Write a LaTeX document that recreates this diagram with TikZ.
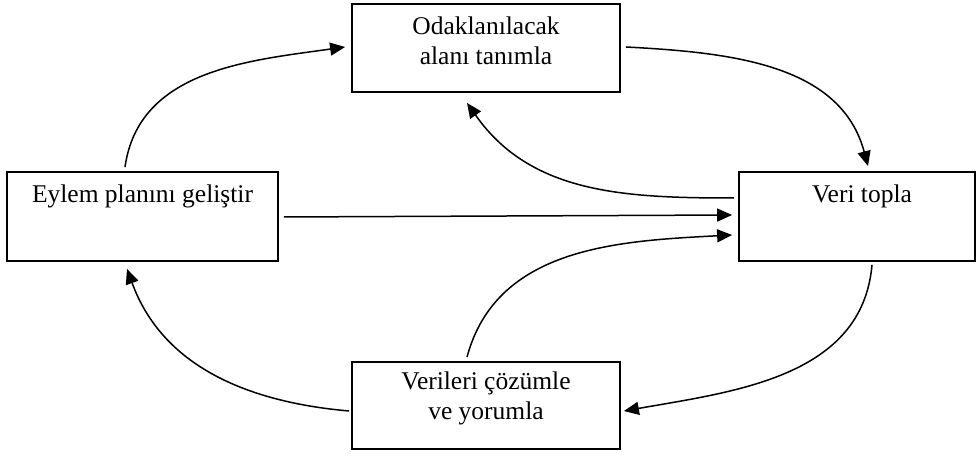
\documentclass[tikz,border=0pt]{standalone}
\usepackage{fontspec}
\setmainfont{Liberation Serif}
\usetikzlibrary{arrows.meta}
\begin{document}
\begin{tikzpicture}[x=1pt,y=1pt,
  box/.style={draw, line width=1.8pt, inner sep=0pt},
  lbl/.style={font=\fontsize{25.5}{30}\selectfont, align=center, inner sep=0pt},
  arr/.style={line width=1.5pt, -{Triangle[length=15pt,width=13pt]}}]
\fill[white] (0,0) rectangle (977,457);
\useasboundingbox (0,0) rectangle (977,457);

% the four boxes
\node[box, minimum width=268pt, minimum height=88pt] (focus) at (486,409) {};
\node[box, minimum width=271pt, minimum height=89pt] (plan) at (142.5,240.5) {};
\node[box, minimum width=236pt, minimum height=89pt] (data) at (857,240.5) {};
\node[box, minimum width=268pt, minimum height=87pt] (analyse) at (486,51.5) {};

% box texts, set in the upper part of each box
\node[lbl] (tfocus) at ([yshift=-38pt]focus.north) {Odaklanılacak\\alanı tanımla};
\node[lbl] (tplan) at ([yshift=-25pt]plan.north) {Eylem planını geliştir};
\node[lbl] (tdata) at ([xshift=5pt,yshift=-25pt]data.north) {Veri topla};
\node[lbl] (tanalyse) at ([yshift=-37pt]analyse.north) {Verileri çözümle\\ve yorumla};

% cycle arrows
\draw[arr] ([xshift=-17.5pt,yshift=4pt]plan.north) to[out=82,in=188] ([xshift=-6pt,yshift=1pt]focus.west);
\draw[arr] ([xshift=5pt,yshift=1pt]focus.east) to[out=-3,in=105] ([xshift=11pt,yshift=5pt]data.north);
\draw[arr] ([xshift=-4pt,yshift=18.5pt]data.west) to[out=180,in=-55] ([xshift=-19pt,yshift=-10pt]focus.south);
\draw[arr] ([xshift=5pt,yshift=-0.5pt]plan.east) -- ([xshift=-6pt,yshift=1.5pt]data.west);
\draw[arr] ([xshift=-19pt,yshift=4pt]analyse.north) to[out=75,in=183] ([xshift=-6pt,yshift=-18.5pt]data.west);
\draw[arr] ([xshift=15pt,yshift=-3pt]data.south) to[out=-95,in=10] ([xshift=3pt,yshift=-5.5pt]analyse.east);
\draw[arr] ([xshift=-2pt,yshift=-5.5pt]analyse.west) to[out=175,in=-70] ([xshift=-15.5pt,yshift=-7pt]plan.south);
\end{tikzpicture}
\end{document}
